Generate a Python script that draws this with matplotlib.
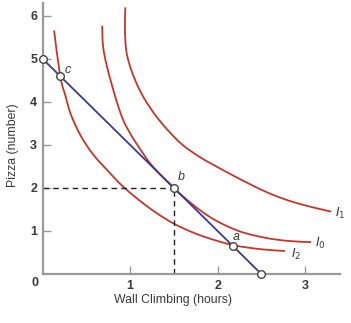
import matplotlib
matplotlib.use('Agg')
import matplotlib.pyplot as plt
from matplotlib.path import Path
from matplotlib.patches import PathPatch

# fonts: narrow sans like the textbook figure
plt.rcParams['font.family'] = ['Liberation Sans Narrow', 'Liberation Sans', 'DejaVu Sans']
plt.rcParams['mathtext.fontset'] = 'custom'
plt.rcParams['mathtext.it'] = 'Liberation Sans Narrow:italic'
plt.rcParams['mathtext.rm'] = 'Liberation Sans Narrow'

# budget line (wall climbing hours, pizza)
budget_x = [0.0, 2.5]
budget_y = [5.0, 0.0]

# indifference curves, points
i2_x = [0.13, 0.2, 0.26, 0.32, 0.43, 0.58, 0.79, 0.92, 1.1, 1.3, 1.5, 1.7, 1.9, 2.18, 2.5, 2.77]
i2_y = [5.66, 4.6, 4.14, 3.72, 3.23, 2.77, 2.30, 2.03, 1.72, 1.42, 1.17, 0.98, 0.83, 0.67, 0.575, 0.535]

i0_x = [0.68, 0.69, 0.735, 0.84, 0.92, 1.0, 1.07, 1.25, 1.5, 1.7, 1.9, 2.1, 2.3, 2.55, 2.8, 3.07]
i0_y = [5.77, 5.3, 4.82, 4.05, 3.58, 3.27, 3.04, 2.52, 2.0, 1.64, 1.34, 1.12, 0.96, 0.84, 0.77, 0.74]

i1_x = [0.945, 0.94, 0.955, 1.0, 1.08, 1.17, 1.3, 1.45, 1.6, 1.78, 1.95, 2.14, 2.33,
        2.52, 2.71, 2.92, 3.13, 3.30]
i1_y = [6.2, 5.7, 5.2, 4.82, 4.4, 4.05, 3.66, 3.30, 3.0, 2.74, 2.54, 2.33, 2.13,
        1.94, 1.78, 1.64, 1.53, 1.45]

# labelled bundles
point_names = ['c', 'b', 'a']
point_x = [0.2, 1.5, 2.18]
point_y = [4.6, 2.0, 0.64]
end_x = [0.0, 2.5]
end_y = [5.0, 0.0]

curve_names = ['$\\mathit{I}_1$', '$\\mathit{I}_0$', '$\\mathit{I}_2$']
curve_label_x = [3.40, 3.17, 2.90]
curve_label_y = [1.40, 0.72, 0.45]

red = '#c4372c'
navy = '#3c3a8c'
gray = '#999999'
txt = '#3a3a3a'


def smooth_path(xs, ys):
    # bezier path through the read points (catmull-rom handles)
    pts = list(zip(xs, ys))
    verts = [pts[0]]
    codes = [Path.MOVETO]
    n = len(pts)
    for i in range(n - 1):
        p0 = pts[max(i - 1, 0)]
        p1 = pts[i]
        p2 = pts[i + 1]
        p3 = pts[min(i + 2, n - 1)]
        c1 = (p1[0] + (p2[0] - p0[0]) / 6, p1[1] + (p2[1] - p0[1]) / 6)
        c2 = (p2[0] - (p3[0] - p1[0]) / 6, p2[1] - (p3[1] - p1[1]) / 6)
        verts += [c1, c2, p2]
        codes += [Path.CURVE4] * 3
    return Path(verts, codes)


fig = plt.figure(figsize=(3.51, 3.23), dpi=100)
ax = fig.add_axes([0.1217, 0.1517, 0.847, 0.839])

for cx, cy in [(i2_x, i2_y), (i0_x, i0_y), (i1_x, i1_y)]:
    ax.add_patch(PathPatch(smooth_path(cx, cy), fill=False, edgecolor=red, lw=1.3))
ax.plot(budget_x, budget_y, color=navy, lw=1.3)

# dashed guides to point b
ax.plot([0, point_x[1]], [point_y[1], point_y[1]], color='#222222', lw=1, ls=(0, (4, 3)))
ax.plot([point_x[1], point_x[1]], [0, point_y[1]], color='#222222', lw=1, ls=(0, (4, 3)))

ax.plot(point_x + end_x, point_y + end_y, 'o', ms=5.5, mfc='white', mec='#444444',
        mew=1, clip_on=False, zorder=5)

label_off = [(0.09, 0.14), (0.08, 0.26), (0.03, 0.22)]
for name, x, y, off in zip(point_names, point_x, point_y, label_off):
    ax.text(x + off[0], y + off[1], name, style='italic', fontsize=9, color=txt,
            ha='center', va='center')

for name, x, y in zip(curve_names, curve_label_x, curve_label_y):
    ax.text(x, y, name, fontsize=9, color=txt, ha='center', va='center', clip_on=False)

ax.set_xlim(0, 3.4)
ax.set_ylim(0, 6.3)
ax.set_xticks([1, 2, 3])
ax.set_yticks([1, 2, 3, 4, 5, 6])
ax.tick_params(direction='in', length=6, width=1, color=gray, labelcolor=txt,
               labelsize=9, pad=4)
for lab in ax.get_xticklabels() + ax.get_yticklabels():
    lab.set_fontweight('bold')
ax.text(-0.088, -0.21, '0', fontsize=9, fontweight='bold', color=txt,
        ha='center', va='center', clip_on=False)

for side in ['top', 'right']:
    ax.spines[side].set_visible(False)
for side in ['left', 'bottom']:
    ax.spines[side].set_color(gray)
    ax.spines[side].set_linewidth(1.6)

fig.text(0.493, 0.07, 'Wall Climbing (hours)', fontsize=8.8, color=txt,
         ha='center', va='center')
fig.text(0.037, 0.55, 'Pizza (number)', fontsize=8.8, color=txt, rotation=90,
         ha='center', va='center')

fig.savefig('out.png', dpi=100)
